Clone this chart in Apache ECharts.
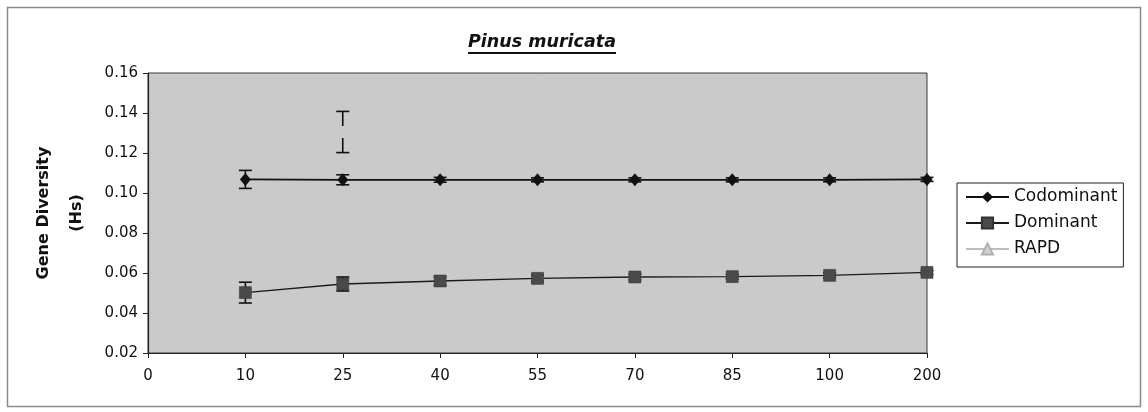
<!DOCTYPE html>
<html>
<head>
<meta charset="utf-8">
<script src="https://cdn.jsdelivr.net/npm/echarts@6/dist/echarts.min.js"></script>
<style>
html,body{margin:0;padding:0;background:#fff;}
#c{width:1148px;height:412px;}
</style>
</head>
<body>
<div id="c"></div>
<script>
// ---- data ----
const categories = ['0','10','25','40','55','70','85','100','200'];
const codominant    = [null, 0.1068, 0.1066, 0.1066, 0.1066, 0.1066, 0.1066, 0.1066, 0.1068];
const codominantErr = [null, 0.0045, 0.0025, 0.0012, 0.0010, 0.0010, 0.0010, 0.0010, 0.0010];
const dominant      = [null, 0.0502, 0.0545, 0.0560, 0.0573, 0.0580, 0.0582, 0.0588, 0.0603];
const dominantErr   = [null, 0.0052, 0.0035, 0.0022, 0.0016, 0.0015, 0.0012, 0.0012, 0.0010];
const rapd          = [null, null, 0.1305, null, null, null, null, null, null];
const rapdErr       = [null, null, 0.0103, null, null, null, null, null, null];
const yTicks = {min: 0.02, max: 0.16, interval: 0.02};

const FONT = 'DejaVu Sans';

function errData(mean, err) {
  const out = [];
  mean.forEach((m, i) => { if (m != null && err[i] != null) out.push([i, m, err[i]]); });
  return out;
}
function errRender(gap) {
  return function (params, api) {
    const i = api.value(0), m = api.value(1), e = api.value(2);
    const c = api.coord([i, m]);
    const hi = api.coord([i, m + e]);
    const lo = api.coord([i, m - e]);
    const w = 6.5;
    const st = {stroke: '#111', lineWidth: 1.6};
    const ch = [];
    if (gap > 0) {
      ch.push({type: 'line', shape: {x1: c[0], y1: hi[1], x2: c[0], y2: c[1] - gap}, style: st});
      ch.push({type: 'line', shape: {x1: c[0], y1: c[1] + gap, x2: c[0], y2: lo[1]}, style: st});
    } else {
      ch.push({type: 'line', shape: {x1: c[0], y1: hi[1], x2: c[0], y2: lo[1]}, style: st});
    }
    ch.push({type: 'line', shape: {x1: c[0] - w, y1: hi[1], x2: c[0] + w, y2: hi[1]}, style: st});
    ch.push({type: 'line', shape: {x1: c[0] - w, y1: lo[1], x2: c[0] + w, y2: lo[1]}, style: st});
    return {type: 'group', children: ch};
  };
}

// title measurement for the underline
const titleText = 'Pinus muricata';
const titleFont = 'italic bold 17.5px "' + FONT + '"';
const cv = document.createElement('canvas').getContext('2d');
cv.font = titleFont;
const tw = cv.measureText(titleText).width;
const tcx = 542;

const chart = echarts.init(document.getElementById('c'), null, {renderer: 'canvas'});
chart.setOption({
  animation: false,
  backgroundColor: '#fff',
  textStyle: {fontFamily: FONT},
  grid: {left: 148, right: 221, top: 73, bottom: 59, show: true,
         backgroundColor: '#cacaca', borderColor: '#3a3a3a', borderWidth: 1},
  graphic: [
    {type: 'rect', shape: {x: 7.5, y: 7.5, width: 1133, height: 399},
     style: {fill: 'none', stroke: '#8a8a8a', lineWidth: 1.5}, z: -1},
    {type: 'text', x: tcx, y: 33, style: {text: titleText, font: titleFont, fill: '#111', align: 'center', verticalAlign: 'top'}},
    {type: 'line', shape: {x1: tcx - tw / 2, y1: 53, x2: tcx + tw / 2, y2: 53}, style: {stroke: '#111', lineWidth: 1.8}}
  ],
  legend: {
    orient: 'vertical', left: 957, top: 183,
    itemWidth: 43, itemHeight: 14, itemGap: 6,
    padding: [4, 6, 8, 8],
    backgroundColor: '#fff', borderColor: '#222', borderWidth: 1, borderRadius: 0,
    textStyle: {fontSize: 17, fontFamily: FONT, color: '#111', lineHeight: 20},
    data: ['Codominant', 'Dominant', 'RAPD']
  },
  xAxis: {
    type: 'category', data: categories, boundaryGap: false,
    axisLine: {lineStyle: {color: '#222', width: 1.2}},
    axisTick: {show: true, alignWithLabel: true, length: 5, lineStyle: {color: '#222'}},
    axisLabel: {fontSize: 15, fontFamily: FONT, color: '#111', margin: 16, interval: 0},
    splitLine: {show: false}
  },
  yAxis: {
    type: 'value', min: yTicks.min, max: yTicks.max, interval: yTicks.interval,
    name: 'Gene Diversity\n(Hs)', nameLocation: 'middle', nameRotate: 90, nameGap: 44,
    nameTextStyle: {fontSize: 16, fontWeight: 'bold', fontFamily: FONT, color: '#111', lineHeight: 33, align: 'center'},
    axisLine: {show: true, lineStyle: {color: '#222', width: 1.2}},
    axisTick: {show: true, length: 5, lineStyle: {color: '#222'}},
    axisLabel: {fontSize: 15, fontFamily: FONT, color: '#111', margin: 10,
                formatter: v => v.toFixed(2)},
    splitLine: {show: false}
  },
  series: [
    {type: 'custom', name: 'cErr', renderItem: errRender(0), data: errData(codominant, codominantErr), z: 2, silent: true},
    {type: 'custom', name: 'dErr', renderItem: errRender(0), data: errData(dominant, dominantErr), z: 2, silent: true},
    {type: 'custom', name: 'rErr', renderItem: errRender(6), data: errData(rapd, rapdErr), z: 2, silent: true},
    {type: 'line', name: 'Codominant', data: codominant, symbol: 'diamond', symbolSize: [11, 13],
     lineStyle: {color: '#111', width: 1.7}, itemStyle: {color: '#111'}, z: 3},
    {type: 'line', name: 'Dominant', data: dominant, symbol: 'rect', symbolSize: 12,
     lineStyle: {color: '#1a1a1a', width: 1.4}, itemStyle: {color: '#4a4a4a', borderColor: '#333', borderWidth: 0.5}, z: 3},
    {type: 'line', name: 'RAPD', data: rapd.map(() => null), symbol: 'triangle', symbolSize: 10,
     lineStyle: {color: '#bdbdbd', width: 1.2}, itemStyle: {color: '#d0d0d0', borderColor: '#b0b0b0', borderWidth: 1}, z: 3}
  ]
});
</script>
</body>
</html>
